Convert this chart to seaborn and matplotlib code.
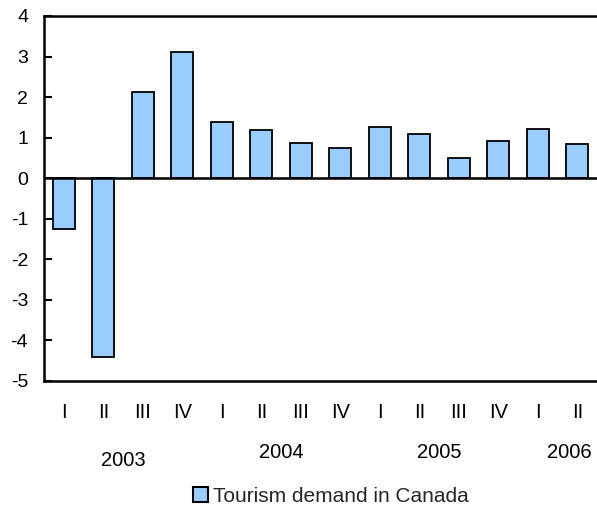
import matplotlib
matplotlib.use("Agg")
import matplotlib.pyplot as plt
import matplotlib.transforms as mtransforms
import seaborn as sns
import pandas as pd

periods = ["2003 I", "2003 II", "2003 III", "2003 IV",
           "2004 I", "2004 II", "2004 III", "2004 IV",
           "2005 I", "2005 II", "2005 III", "2005 IV",
           "2006 I", "2006 II"]
quarters = ["I", "II", "III", "IV", "I", "II", "III", "IV",
            "I", "II", "III", "IV", "I", "II"]
values = [-1.25, -4.4, 2.12, 3.11, 1.38, 1.2, 0.88, 0.74,
          1.26, 1.1, 0.5, 0.93, 1.21, 0.84]
years = ["2003", "2004", "2005", "2006"]
year_pos = [1.5, 5.5, 9.5, 12.8]
series_name = "Tourism demand in Canada"

df = pd.DataFrame({"period": periods, "value": values, "series": series_name})

sns.set_theme(style="white")
plt.rcParams["font.family"] = ["Liberation Sans", "DejaVu Sans"]

FS = 14.5
W, H = 597, 508
fig = plt.figure(figsize=(W / 100, H / 100), dpi=100)
ax = fig.add_axes([44 / W, (H - 381) / H, (W - 44) / W, (381 - 16) / H])

sns.barplot(data=df, x="period", y="value", hue="series", order=periods,
            palette=["#99CCFF"], width=0.56, edgecolor="black", linewidth=1.3,
            saturation=1, ax=ax, legend=True)

ax.set_xlim(-0.5, 13.5)
ax.set_ylim(-5, 4)
ax.set_yticks(range(-5, 5))
ax.set_yticklabels([str(v) for v in range(-5, 5)])
ax.set_xticks(range(len(quarters)))
ax.set_xticklabels(quarters)
ax.set_xlabel("")
ax.set_ylabel("")

ax.axhline(0, color="black", lw=1.8, zorder=3)

for side in ["left", "bottom", "top"]:
    ax.spines[side].set_visible(True)
    ax.spines[side].set_color("black")
    ax.spines[side].set_linewidth(1.8)
ax.spines["right"].set_visible(False)

ax.tick_params(axis="y", direction="in", length=6, width=1.5, color="black",
               labelsize=14, pad=11.5, left=True, labelcolor="black")
ax.tick_params(axis="x", length=0, labelsize=FS, pad=16, labelcolor="black")

trans = mtransforms.blended_transform_factory(ax.transData, fig.transFigure)
year_y = [460, 453, 453, 453]
for yr, xp, yp in zip(years, year_pos, year_y):
    fig.text(xp, 1 - yp / H, yr, transform=trans, ha="center", va="center",
             fontsize=FS, color="black")

leg = ax.legend(loc="center", bbox_to_anchor=(331 / W, 1 - 496 / H),
                bbox_transform=fig.transFigure, frameon=False, fontsize=15,
                handlelength=0.7, handleheight=0.7, handletextpad=0.25)
for h in leg.legend_handles:
    h.set_edgecolor("black")
    h.set_linewidth(1.5)

fig.savefig("out.png", dpi=100)
